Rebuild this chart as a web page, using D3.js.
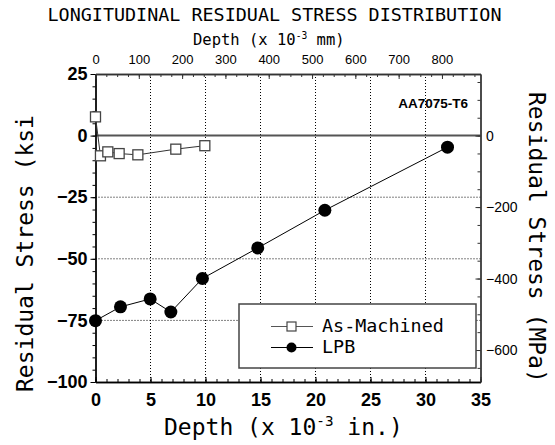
<!DOCTYPE html>
<html><head><meta charset="utf-8">
<script src="https://cdn.jsdelivr.net/npm/d3@7"></script>
<style>
body{margin:0;background:#fff}
svg{display:block}
</style></head><body>
<svg id="chart" width="555" height="445"></svg>
<script>
// Depth in 10^-3 in., stress in ksi
const machinedDepth  = [0, 0.45, 1.12, 2.15, 3.85, 7.3, 9.94];
const machinedStress = [7.6, -8.2, -6.6, -7.3, -7.8, -5.5, -4.1];
const lpbDepth  = [0, 2.27, 4.97, 6.85, 9.72, 14.75, 20.85, 32.0];
const lpbStress = [-75.1, -69.5, -66.3, -71.6, -58.0, -45.6, -30.3, -4.7];

const depthTicks  = [0, 5, 10, 15, 20, 25, 30, 35];
const stressTicks = [25, 0, -25, -50, -75, -100];
const mmTicks     = [0, 100, 200, 300, 400, 500, 600, 700, 800];
const mpaTicks    = [0, -200, -400, -600];
const gridDepth   = [5, 10, 15, 20, 25, 30];
const gridStress  = [-25, -50, -75];
const seriesNames = ["As-Machined", "LPB"];

const IN_TO_MM = 25.4, KSI_TO_MPA = 6.895;
const L = 95.5, R = 480.5, T = 74, B = 382;
const mono = "'DejaVu Sans Mono', monospace";
const sans = "'Liberation Sans', Arial, sans-serif";

const svg = d3.select("#chart");
const x = d3.scaleLinear().domain([0, 35]).range([L, R]);
const y = d3.scaleLinear().domain([-100, 25]).range([B, T]);
const xmm = d3.scaleLinear().domain([0, 35 * IN_TO_MM]).range([L, R]);
const ympa = d3.scaleLinear().domain([-100 * KSI_TO_MPA, 25 * KSI_TO_MPA]).range([B, T]);

// dotted grid
const grid = svg.append("g").attr("stroke", "#000").attr("stroke-width", 1).attr("stroke-dasharray", "1,2");
grid.selectAll("line.v").data(gridDepth).join("line").attr("class", "v")
  .attr("x1", d => x(d)).attr("x2", d => x(d)).attr("y1", T).attr("y2", B);
grid.selectAll("line.h").data(gridStress).join("line").attr("class", "h")
  .attr("x1", L).attr("x2", R).attr("y1", d => y(d)).attr("y2", d => y(d));

// zero stress line
svg.append("line").attr("x1", L).attr("x2", R).attr("y1", y(0)).attr("y2", y(0))
  .attr("stroke", "#555").attr("stroke-width", 2);

function styleAxis(g, color, font, size, weight) {
  g.selectAll("path.domain").attr("stroke", color).attr("stroke-width", 1.3);
  g.selectAll(".tick line").attr("stroke", color);
  g.selectAll("text").attr("font-family", font).attr("font-size", size)
    .attr("font-weight", weight).attr("fill", "#000");
}

// left axis (ksi)
svg.append("g").attr("transform", `translate(${L},0)`)
  .call(d3.axisLeft(y).tickValues(d3.range(-100, 26, 5)).tickSize(3).tickSizeOuter(0).tickFormat(""))
  .call(g => styleAxis(g, "#000"));
svg.append("g").attr("transform", `translate(${L},0)`)
  .call(d3.axisLeft(y).tickValues(stressTicks).tickSize(5).tickSizeOuter(0).tickPadding(3).tickFormat(d3.format("d")))
  .call(g => styleAxis(g, "#000", sans, 18, "bold"));

// bottom axis (10^-3 in.)
svg.append("g").attr("transform", `translate(0,${B})`)
  .call(d3.axisBottom(x).tickValues(d3.range(0, 36, 1)).tickSize(-3).tickSizeOuter(0).tickFormat(""))
  .call(g => styleAxis(g, "#000"));
svg.append("g").attr("transform", `translate(0,${B})`)
  .call(d3.axisBottom(x).tickValues(depthTicks).tickSize(-5).tickSizeOuter(0).tickPadding(11).tickFormat(d3.format("d")))
  .call(g => styleAxis(g, "#000", sans, 18, "bold"));

// top axis (10^-3 mm)
svg.append("g").attr("transform", `translate(0,${T})`)
  .call(d3.axisTop(xmm).tickValues(d3.range(0, 876, 25)).tickSize(-3).tickSizeOuter(0).tickFormat(""))
  .call(g => styleAxis(g, "#333"));
svg.append("g").attr("transform", `translate(0,${T})`)
  .call(d3.axisTop(xmm).tickValues(mmTicks).tickSize(-5).tickSizeOuter(0).tickPadding(10).tickFormat(d3.format("d")))
  .call(g => styleAxis(g, "#333", sans, 13, "normal"));

// right axis (MPa)
svg.append("g").attr("transform", `translate(${R},0)`)
  .call(d3.axisRight(ympa).tickValues(d3.range(-650, 151, 50)).tickSize(-3).tickSizeOuter(0).tickFormat(""))
  .call(g => styleAxis(g, "#333"));
svg.append("g").attr("transform", `translate(${R},0)`)
  .call(d3.axisRight(ympa).tickValues(mpaTicks).tickSize(-5).tickSizeOuter(0).tickPadding(5.5).tickFormat(d3.format("d")))
  .call(g => styleAxis(g, "#333", sans, 14, "normal"));

// series
const line = d3.line().x(d => x(d[0])).y(d => y(d[1]));
const machined = machinedDepth.map((d, i) => [d, machinedStress[i]]);
const lpb = lpbDepth.map((d, i) => [d, lpbStress[i]]);

svg.append("path").datum(machined).attr("d", line)
  .attr("fill", "none").attr("stroke", "#333").attr("stroke-width", 1);
svg.selectAll("rect.m").data(machined).join("rect").attr("class", "m")
  .attr("x", d => x(d[0]) - 5).attr("y", d => y(d[1]) - 5)
  .attr("width", 10).attr("height", 10)
  .attr("fill", "#fff").attr("stroke", "#444").attr("stroke-width", 1.3);

svg.append("path").datum(lpb).attr("d", line)
  .attr("fill", "none").attr("stroke", "#000").attr("stroke-width", 1);
svg.selectAll("circle.l").data(lpb).join("circle").attr("class", "l")
  .attr("cx", d => x(d[0])).attr("cy", d => y(d[1])).attr("r", 6.5).attr("fill", "#000");

// material label
svg.append("text").attr("x", 468).attr("y", 107.5).attr("text-anchor", "end")
  .attr("font-family", sans).attr("font-size", 13.5).attr("font-weight", "bold")
  .text("AA7075-T6");

// legend
const leg = svg.append("g");
leg.append("rect").attr("x", 239).attr("y", 304).attr("width", 237).attr("height", 64)
  .attr("fill", "#fff").attr("stroke", "#444").attr("stroke-width", 1.5);
const rows = [326.5, 347.5];
seriesNames.forEach((name, i) => {
  const ly = rows[i];
  leg.append("line").attr("x1", 271).attr("x2", 313).attr("y1", ly).attr("y2", ly)
    .attr("stroke", i === 0 ? "#555" : "#000").attr("stroke-width", 1.2);
  if (i === 0) {
    leg.append("rect").attr("x", 287).attr("y", ly - 4.5).attr("width", 9).attr("height", 9)
      .attr("fill", "#fff").attr("stroke", "#444").attr("stroke-width", 1.2);
  } else {
    leg.append("circle").attr("cx", 291.5).attr("cy", ly).attr("r", 5).attr("fill", "#000");
  }
  leg.append("text").attr("x", 322).attr("y", ly + 5.5)
    .attr("font-family", mono).attr("font-size", 18.4).text(name);
});

// titles
svg.append("text").attr("x", 274.5).attr("y", 21).attr("text-anchor", "middle")
  .attr("font-family", mono).attr("font-size", 18.4)
  .text("LONGITUDINAL RESIDUAL STRESS DISTRIBUTION");

function depthTitle(xPos, yPos, size, unit) {
  const t = svg.append("text").attr("x", xPos).attr("y", yPos)
    .attr("font-family", mono).attr("font-size", size);
  t.append("tspan").text("Depth (x 10");
  t.append("tspan").attr("dy", -size * 0.4).attr("font-size", size * 0.62).text("-3");
  t.append("tspan").attr("dy", size * 0.4).text(" " + unit + ")");
}
depthTitle(193, 45, 15.5, "mm");
depthTitle(164, 435, 23, "in.");

svg.append("text").attr("transform", "translate(33,392) rotate(-90)")
  .attr("font-family", mono).attr("font-size", 23)
  .text("Residual Stress (ksi");
svg.append("text").attr("transform", "translate(529,92) rotate(90)")
  .attr("font-family", mono).attr("font-size", 23)
  .text("Residual Stress (MPa)");
</script>
</body></html>
